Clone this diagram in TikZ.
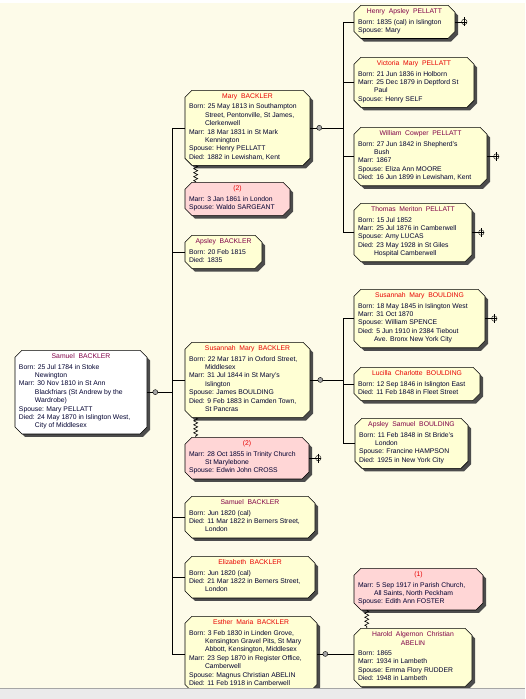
\documentclass[tikz,border=0pt]{standalone}
\usepackage{fontspec}
\setmainfont{Liberation Sans}
\usetikzlibrary{shapes.misc,shadows,calc,decorations.pathmorphing}

\definecolor{bgcream}{RGB}{253,251,233}
\definecolor{boxyel}{RGB}{255,255,212}
\definecolor{boxpink}{RGB}{255,214,214}
\definecolor{femred}{RGB}{232,0,0}
\definecolor{malepur}{RGB}{128,0,72}
\definecolor{dettext}{RGB}{0,0,48}
\definecolor{dotgray}{RGB}{165,165,165}

\newcommand\detfont{\fontsize{6.8}{8.4}\selectfont}
\newcommand\hind{\hspace*{16pt}}
% box text: width, name colour, name, detail lines
\newcommand\pb[4]{\parbox{\dimexpr #1pt-8pt\relax}{\centering\textcolor{#2}{#3}\par\vspace{2pt}%
  \raggedright\begin{tabular}[t]{@{}l@{}}#4\end{tabular}}}

\tikzset{
  person/.style={chamfered rectangle, chamfered rectangle xsep=3.5pt, chamfered rectangle ysep=3.5pt,
    draw, line width=0.6pt, fill=boxyel, anchor=north, inner xsep=0.5pt, inner ysep=0pt,
    font=\detfont, text=dettext,
    drop shadow={shadow xshift=3pt, shadow yshift=-3pt, fill=black!70, opacity=1}},
  marriage/.style={person, fill=boxpink},
  famdot/.style={circle, draw, fill=dotgray, minimum size=5pt, inner sep=0pt},
  moremark/.style={circle, draw, minimum size=5.5pt, inner sep=0pt},
  conn/.style={line width=0.6pt},
  zig/.style={conn, decorate, decoration={zigzag, segment length=4pt, amplitude=2pt}}
}

\begin{document}
\begin{tikzpicture}[x=1pt, y=-1pt]
  \fill[bgcream] (0,0) rectangle (525,699);
  \useasboundingbox (0,0) rectangle (525,699);
  \fill[white] (0,0) rectangle (525,3);

  % root
  \node[person, fill=white] (root) at (81,350) {\pb{132}{malepur}{Samuel~~BACKLER}{%
    Born: 25 Jul 1784 in Stoke\\ \hind Newington\\
    Marr: 30 Nov 1810 in St Ann\\ \hind Blackfriars (St Andrew by the\\ \hind Wardrobe)\\
    Spouse: Mary PELLATT\\
    Died: 24 May 1870 in Islington West,\\ \hind City of Middlesex}};

  % children
  \node[person] (mary) at (247.5,90) {\pb{125}{femred}{Mary~~BACKLER}{%
    Born: 25 May 1813 in Southampton\\ \hind Street, Pentonville, St James,\\ \hind Clerkenwell\\
    Marr: 18 Mar 1831 in St Mark\\ \hind Kennington\\
    Spouse: Henry PELLATT\\
    Died: 1882 in Lewisham, Kent}};
  \node[marriage] (mary2) at (237.5,182) {\pb{105}{femred}{(2)}{%
    Marr: 3 Jan 1861 in London\\
    Spouse: Waldo SARGEANT}};
  \node[person] (apsley) at (223.5,235) {\pb{77}{malepur}{Apsley~~BACKLER}{%
    Born: 20 Feb 1815\\
    Died: 1835}};
  \node[person] (susannah) at (247.5,342) {\pb{125}{femred}{Susannah~~Mary~~BACKLER}{%
    Born: 22 Mar 1817 in Oxford Street,\\ \hind Middlesex\\
    Marr: 31 Jul 1844 in St Mary's\\ \hind Islington\\
    Spouse: James BOULDING\\
    Died: 9 Feb 1883 in Camden Town,\\ \hind St Pancras}};
  \node[marriage] (susannah2) at (247,437) {\pb{124}{femred}{(2)}{%
    Marr: 28 Oct 1855 in Trinity Church\\ \hind St Marylebone\\
    Spouse: Edwin John CROSS}};
  \node[person] (samuel) at (250,496) {\pb{130}{malepur}{Samuel~~BACKLER}{%
    Born: Jun 1820 (cal)\\
    Died: 11 Mar 1822 in Berners Street,\\ \hind London}};
  \node[person] (elizabeth) at (250,556) {\pb{130}{femred}{Elizabeth~~BACKLER}{%
    Born: Jun 1820 (cal)\\
    Died: 21 Mar 1822 in Berners Street,\\ \hind London}};
  \node[person] (esther) at (251,616) {\pb{132}{femred}{Esther~~Maria~~BACKLER}{%
    Born: 3 Feb 1830 in Linden Grove,\\ \hind Kensington Gravel Pits, St Mary\\ \hind Abbott, Kensington, Middlesex\\
    Marr: 23 Sep 1870 in Register Office,\\ \hind Camberwell\\
    Spouse: Magnus Christian ABELIN\\
    Died: 11 Feb 1918 in Camberwell}};

  % grandchildren of Mary
  \node[person] (henry) at (404.5,5) {\pb{101}{malepur}{Henry~~Apsley~~PELLATT}{%
    Born: 1835 (cal) in Islington\\
    Spouse: Mary}};
  \node[person] (victoria) at (414,57) {\pb{120}{femred}{Victoria~~Mary~~PELLATT}{%
    Born: 21 Jun 1836 in Holborn\\
    Marr: 25 Dec 1879 in Deptford St\\ \hind Paul\\
    Spouse: Henry SELF}};
  \node[person] (william) at (420.5,127) {\pb{133}{malepur}{William~~Cowper~~PELLATT}{%
    Born: 27 Jun 1842 in Shepherd's\\ \hind Bush\\
    Marr: 1867\\
    Spouse: Eliza Ann MOORE\\
    Died: 16 Jun 1899 in Lewisham, Kent}};
  \node[person] (thomas) at (413,203) {\pb{118}{malepur}{Thomas~~Meriton~~PELLATT}{%
    Born: 15 Jul 1852\\
    Marr: 25 Jul 1876 in Camberwell\\
    Spouse: Amy LUCAS\\
    Died: 23 May 1928 in St Giles\\ \hind Hospital Camberwell}};

  % grandchildren of Susannah
  \node[person] (susb) at (419.5,289) {\pb{131}{femred}{Susannah~~Mary~~BOULDING}{%
    Born: 18 May 1845 in Islington West\\
    Marr: 31 Oct 1870\\
    Spouse: William SPENCE\\
    Died: 5 Jun 1910 in 2384 Tiebout\\ \hind Ave. Bronx New York City}};
  \node[person] (lucilla) at (417,367) {\pb{126}{femred}{Lucilla~~Charlotte~~BOULDING}{%
    Born: 12 Sep 1846 in Islington East\\
    Died: 11 Feb 1848 in Fleet Street}};
  \node[person] (apsleys) at (411.5,418) {\pb{113}{malepur}{Apsley~~Samuel~~BOULDING}{%
    Born: 11 Feb 1848 in St Bride's\\ \hind London\\
    Spouse: Francine HAMPSON\\
    Died: 1925 in New York City}};

  % grandchild of Esther
  \node[marriage] (harold1) at (418.5,568) {\pb{129}{femred}{(1)}{%
    Marr: 5 Sep 1917 in Parish Church,\\ \hind All Saints, North Peckham\\
    Spouse: Edith Ann FOSTER}};
  \node[person] (harold) at (413,628) {\pb{118}{malepur}{Harold~~Algernon~~Christian\\ABELIN}{%
    Born: 1865\\
    Marr: 1934 in Lambeth\\
    Spouse: Emma Flory RUDDER\\
    Died: 1948 in Lambeth}};

  % family lines
  \coordinate (tk) at (172,0);
  \coordinate (mv) at (343,0);
  \node[famdot] (rdot) at ($(root.east)+(8,0)$) {};
  \node[famdot] (mdot) at ($(mary.east)+(9,0)$) {};
  \node[famdot] (sdot) at ($(susannah.east)+(10,0)$) {};
  \node[famdot] (edot) at ($(esther.east)+(8,0)$) {};
  \draw[conn] (root.east) -- (rdot) -- (rdot -| tk);
  \draw[conn] (tk |- mary.west) -- (tk |- esther.west);
  \foreach \c in {mary,apsley,susannah,samuel,elizabeth,esther}
    \draw[conn] (tk |- \c.west) -- (\c.west);
  \draw[conn] (mary.east) -- (mdot) -- (mdot -| mv);
  \draw[conn] (mv |- henry.west) -- (mv |- thomas.west);
  \foreach \c in {henry,victoria,william,thomas}
    \draw[conn] (mv |- \c.west) -- (\c.west);
  \draw[conn] (susannah.east) -- (sdot) -- (sdot -| mv);
  \draw[conn] (mv |- susb.west) -- (mv |- apsleys.west);
  \foreach \c in {susb,lucilla,apsleys}
    \draw[conn] (mv |- \c.west) -- (\c.west);
  \draw[conn] (esther.east) -- (edot) -- (edot -| harold.west);

  % later marriages
  \draw[zig] ($(mary.west |- mary.south)+(11,0)$) -- ($(mary2.west |- mary2.north)+(11,0)$);
  \draw[zig] ($(susannah.west |- susannah.south)+(11,0)$) -- ($(susannah2.west |- susannah2.north)+(11,0)$);
  \draw[zig] ($(harold1.west |- harold1.south)+(13,0)$) -- ($(harold.west |- harold.north)+(13,0)$);

  % more descendants
  \foreach \c in {henry,william,thomas,susb,susannah2} {
    \node[moremark] (\c more) at ($(\c.east)+(9,0)$) {};
    \draw[conn] (\c.east) -- (\c more.east);
    \draw[conn] ([yshift=4.5pt]\c more.center) -- ([yshift=-4.5pt]\c more.center);
  }

  \fill[black!8] (0,688) rectangle (525,699);
  \draw[black!35] (0,688) -- (525,688);
\end{tikzpicture}
\end{document}
